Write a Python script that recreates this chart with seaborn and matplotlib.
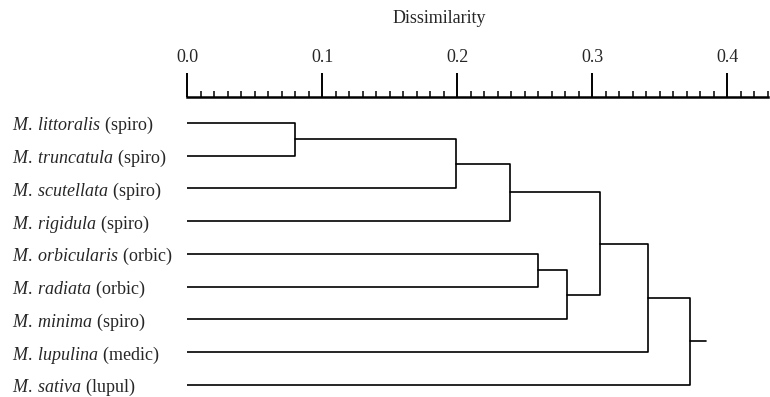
import numpy as np
import pandas as pd
import matplotlib
matplotlib.use("Agg")
import matplotlib.pyplot as plt
from matplotlib.ticker import MultipleLocator
import seaborn as sns

#%%
# leaves, top to bottom
species = ["M. littoralis", "M. truncatula", "M. scutellata", "M. rigidula",
           "M. orbicularis", "M. radiata", "M. minima", "M. lupulina", "M. sativa"]
groups = ["spiro", "spiro", "spiro", "spiro", "orbic", "orbic", "spiro", "medic", "lupul"]

# merges: (child a, child b, dissimilarity); new clusters numbered from 9
merge_a = [0, 9, 10, 4, 12, 11, 14, 15]
merge_b = [1, 2, 3, 5, 6, 13, 7, 8]
merge_h = [0.080, 0.199, 0.239, 0.260, 0.281, 0.306, 0.341, 0.372]
root_h = 0.384

ticks = [0.0, 0.1, 0.2, 0.3, 0.4]

#%%
sns.set_theme(style="white")
plt.rcParams["font.family"] = ["Liberation Serif", "DejaVu Serif"]
plt.rcParams["mathtext.fontset"] = "custom"
plt.rcParams["mathtext.it"] = "Liberation Serif:italic"
plt.rcParams["mathtext.rm"] = "Liberation Serif"

# dendrogram layout
pos = [float(i) for i in range(len(species))]
hgt = [0.0] * len(species)
rows = []
for k, (a, b, h) in enumerate(zip(merge_a, merge_b, merge_h)):
    ya, yb = pos[a], pos[b]
    for x, y in [(hgt[a], ya), (h, ya), (h, yb), (hgt[b], yb)]:
        rows.append({"link": k, "x": x, "y": y})
    pos.append((ya + yb) / 2)
    hgt.append(h)
rows.append({"link": 99, "x": hgt[-1], "y": pos[-1]})
rows.append({"link": 99, "x": root_h, "y": pos[-1]})
seg = pd.DataFrame(rows)

fig = plt.figure(figsize=(7.7, 3.97), dpi=100)
ax = fig.add_axes([187 / 770, 0, (768 - 187) / 770, 1 - 97 / 397])

sns.lineplot(data=seg, x="x", y="y", units="link", estimator=None, sort=False,
             color="black", lw=1.2, ax=ax)

ax.set_xlim(0, 0.43)
ax.set_ylim(len(species) - 1 + 0.37, -0.79)

for s in ["left", "right", "bottom"]:
    ax.spines[s].set_visible(False)
ax.spines["top"].set_linewidth(1.8)
ax.spines["top"].set_color("black")

ax.xaxis.tick_top()
ax.xaxis.set_label_position("top")
ax.set_xticks(ticks)
ax.set_xticklabels([f"{t:.1f}" for t in ticks])
ax.xaxis.set_minor_locator(MultipleLocator(0.01))
ax.tick_params(axis="x", which="major", direction="out", length=17, width=1.4,
               pad=5, labelsize=13, color="black", top=True, bottom=False)
ax.tick_params(axis="x", which="minor", direction="out", length=4.5, width=1.1,
               color="black", top=True, bottom=False)
ax.set_xlabel("Dissimilarity", fontsize=13)
ax.xaxis.label.set_va("bottom")
ax.xaxis.set_label_coords(0.435, 1 + 70 / 300)

ylabels = [r"$\mathit{" + s.replace(" ", r"\;") + "}$ (" + g + ")"
           for s, g in zip(species, groups)]
ax.set_yticks(range(len(species)))
ax.set_yticklabels(ylabels, fontsize=13)
ax.set_ylabel("")
ax.tick_params(axis="y", length=0, pad=(187 - 12) * 0.72)
for lab in ax.get_yticklabels():
    lab.set_horizontalalignment("left")
    lab.set_verticalalignment("center_baseline")

ax.grid(False)
fig.savefig("out.png", dpi=100)
